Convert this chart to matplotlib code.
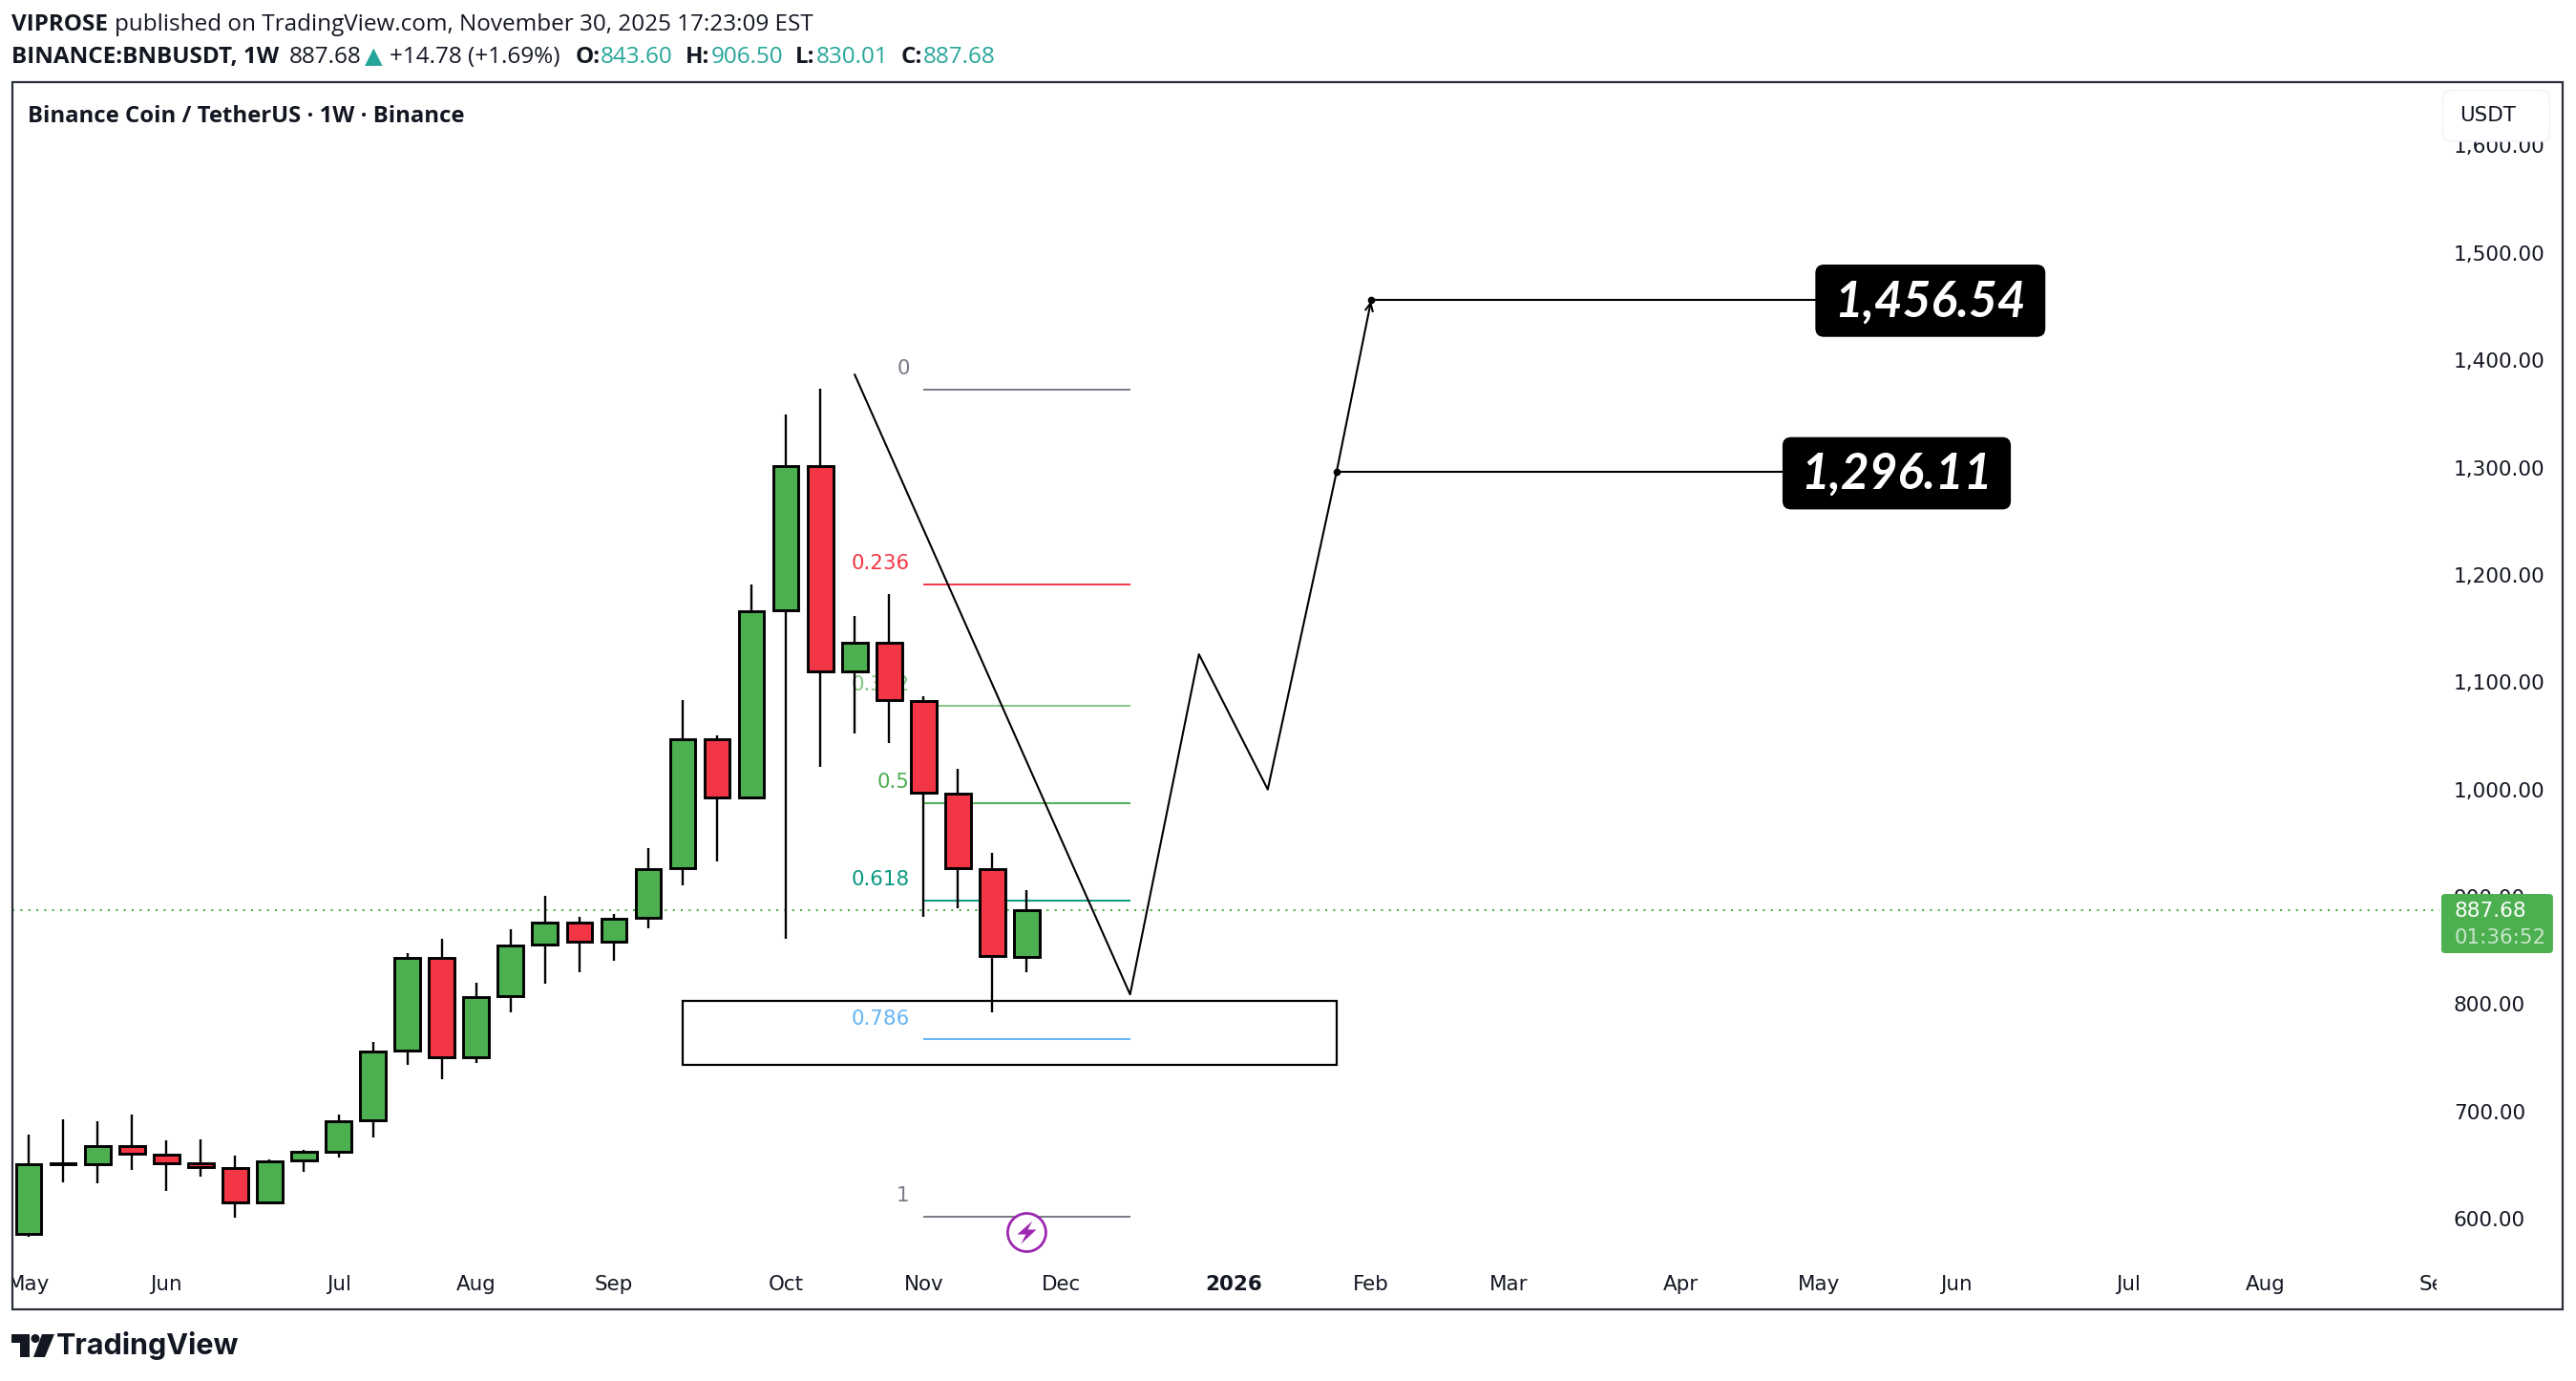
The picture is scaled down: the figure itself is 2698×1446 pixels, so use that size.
import numpy as np
import matplotlib
matplotlib.use('Agg')
import matplotlib.pyplot as plt
from matplotlib.patches import FancyBboxPatch, Rectangle, Circle, Polygon

# weekly candles, BINANCE:BNBUSDT
opens  = [585.4, 651.0, 650.7, 668.1, 660.0, 651.3, 647.3, 615.2, 654.4, 662.2, 692.1, 756.4, 843.2, 750.8, 807.4,
          855.6, 876.2, 858.1, 880.5, 927.0, 1046.8, 992.8, 1166.6, 1301.0, 1110.0, 1136.5, 1082.5, 996.4, 926.2, 843.6]
highs  = [678.4, 692.7, 690.8, 697.0, 673.0, 674.0, 658.8, 655.0, 664.4, 697.0, 764.8, 847.3, 860.6, 819.6, 869.3,
          900.7, 881.0, 883.6, 945.2, 1083.0, 1050.0, 1191.2, 1349.0, 1373.8, 1161.5, 1181.7, 1086.5, 1019.0, 940.5, 906.5]
lows   = [583.5, 634.2, 633.3, 645.0, 625.5, 639.0, 601.2, 615.0, 644.0, 656.6, 675.3, 743.4, 730.0, 745.0, 792.5,
          819.3, 829.8, 840.7, 870.2, 911.0, 932.5, 991.0, 861.0, 1021.4, 1052.4, 1043.6, 881.7, 888.9, 792.3, 830.01]
closes = [650.4, 651.3, 668.1, 660.6, 651.6, 647.9, 615.2, 653.8, 661.9, 691.1, 755.5, 843.2, 750.8, 806.5, 854.7,
          876.2, 858.1, 879.6, 925.9, 1046.8, 992.8, 1165.8, 1301.0, 1110.0, 1136.5, 1083.3, 996.8, 927.0, 844.4, 887.68]

# fib retracement tool
fib_levels = ['0', '0.236', '0.382', '0.5', '0.618', '0.786', '1']
fib_prices = [1373.0, 1191.0, 1078.0, 987.5, 896.5, 767.0, 602.0]
fib_colors = ['#787b86', '#f23645', '#81c784', '#4caf50', '#089981', '#64b5f6', '#787b86']
fib_start, fib_end = 26, 32

# hand drawn path and targets
path_x = [24, 32, 34, 36, 38, 39]
path_y = [1386.5, 809, 1126, 1000, 1296, 1455]
target_prices = [1456.54, 1296.11]
target_x0 = [39, 38]
target_x1 = [52, 51]
zone_x = [19, 38]
zone_y = [743, 803]

last_price = 887.68
time_ticks = [0, 4, 9, 13, 17, 22, 26, 30, 35, 39, 43, 48, 52, 56, 61, 65, 70]
time_labels = ['May', 'Jun', 'Jul', 'Aug', 'Sep', 'Oct', 'Nov', 'Dec', '2026', 'Feb', 'Mar', 'Apr', 'May', 'Jun', 'Jul', 'Aug', 'Sep']
price_ticks = [600, 700, 800, 900, 1000, 1100, 1200, 1300, 1400, 1500, 1600]

W, H = 2698, 1446
GREEN = '#4caf50'
RED = '#f23645'
DARK = '#131722'
TEAL = '#26a69a'
K = 2698 / 1568.0  # reading scale from the screenshot
HEAD = ['Open Sans', 'DejaVu Sans']

plt.rcParams['font.family'] = HEAD
fig = plt.figure(figsize=(W / 100, H / 100), dpi=100, facecolor='white')

# price pane
left, right = 7.5 * K, 1485 * K
top, bottom = 50 * K, 766 * K
ax = fig.add_axes([left / W, 1 - bottom / H, (right - left) / W, (bottom - top) / H])
ax.set_xlim(-0.477, 70.05)
ax.set_ylim(800 + (611 - 766) / 0.653, 800 + (611 - 50) / 0.653)
for s in ax.spines.values():
    s.set_visible(False)
ax.yaxis.tick_right()
ax.set_xticks(time_ticks)
ax.set_xticklabels(time_labels, fontsize=15.4, family='DejaVu Sans', color=DARK)
ax.get_xticklabels()[8].set_fontweight('bold')
ax.set_yticks(price_ticks)
ax.set_yticklabels(['{:,.2f}'.format(p) for p in price_ticks], fontsize=15.6, family='DejaVu Sans', color=DARK)
ax.tick_params(axis='x', length=0, pad=12)
ax.tick_params(axis='y', length=0, pad=10.5)
for lab in ax.get_xticklabels():
    lab.set_clip_on(True)
    lab.set_clip_box(matplotlib.transforms.Bbox([[left, 0], [1483 * K, H]]))

# fib levels sit under the candles
for lev, pr, col in zip(fib_levels, fib_prices, fib_colors):
    ax.hlines(pr, fib_start, fib_end, color=col, lw=1.4, zorder=1)
    ax.annotate(lev, (fib_start, pr), xytext=(-10.5, 8.5), textcoords='offset points', ha='right', va='bottom',
                color=col, fontsize=15.4, family='DejaVu Sans', zorder=1)

ax.axhline(last_price, color=GREEN, lw=1.5, ls=(0, (1, 3)), zorder=1.5)

# candles
xs = np.arange(len(opens))
o, h, l, c = map(np.array, (opens, highs, lows, closes))
ax.vlines(xs, l, h, color='black', lw=1.7, zorder=3)
cols = [GREEN if cc >= oo else RED for oo, cc in zip(o, c)]
ax.bar(xs, np.abs(c - o), bottom=np.minimum(o, c), width=0.74, color=cols, edgecolor='black', lw=2.1, zorder=4)

# drawings
ax.add_patch(Rectangle((zone_x[0], zone_y[0]), zone_x[1] - zone_x[0], zone_y[1] - zone_y[0],
                       fill=False, edgecolor='black', lw=1.6, zorder=5))
ax.plot(path_x[:-1], path_y[:-1], color='black', lw=1.5, zorder=6)
ax.annotate('', (path_x[-1], path_y[-1]), (path_x[-2], path_y[-2]), zorder=6,
            arrowprops=dict(arrowstyle='->', color='black', lw=1.5, mutation_scale=14, shrinkA=0, shrinkB=0))
for x0, x1, y in zip(target_x0, target_x1, target_prices):
    ax.plot([x0, x1], [y, y], color='black', lw=1.5, zorder=6)
    ax.plot([x0], [y], 'o', color='black', ms=4.5, zorder=7)

# everything outside the pane, in pixels of the screenshot
bg = fig.add_axes([0, 0, 1, 1], zorder=5)
bg.set_xlim(0, W)
bg.set_ylim(H, 0)
bg.axis('off')

bg.add_patch(Rectangle((7.5 * K, 50 * K), (1560 - 7.5) * K, (797 - 50) * K, fill=False, edgecolor='#2a2e39', lw=1.6))


def chain(x, y, pieces, size):
    rend = fig.canvas.get_renderer()
    for txt, col, wt, gap in pieces:
        t = bg.text(x, y, txt, color=col, fontweight=wt, fontsize=size, va='center', ha='left')
        x = t.get_window_extent(rend).x1 + gap


chain(12, 26, [('VIPROSE', DARK, 'bold', 7),
               ('published on TradingView.com, November 30, 2025 17:23:09 EST', DARK, 'normal', 0)], 17.5)
chain(12, 60, [('BINANCE:BNBUSDT, 1W', DARK, 'bold', 10),
               ('887.68', DARK, 'normal', 4),
               ('▲', TEAL, 'normal', 7),
               ('+14.78 (+1.69%)', DARK, 'normal', 16),
               ('O:', DARK, 'bold', 1), ('843.60', TEAL, 'normal', 13),
               ('H:', DARK, 'bold', 1), ('906.50', TEAL, 'normal', 13),
               ('L:', DARK, 'bold', 1), ('830.01', TEAL, 'normal', 13),
               ('C:', DARK, 'bold', 1), ('887.68', TEAL, 'normal', 0)], 17.5)
bg.text(17 * K, 71 * K, 'Binance Coin / TetherUS · 1W · Binance', color=DARK, fontsize=17.2, fontweight='bold',
        va='center', ha='left')

# currency box hides the top tick label
bg.add_patch(FancyBboxPatch((1487 * K, 55 * K), 65 * K, 31 * K, boxstyle='round,pad=0,rounding_size=8',
                            facecolor='white', edgecolor='#f0f3fa', lw=1))
bg.text(1514 * K, 70.5 * K, 'USDT', color=DARK, fontsize=15.4, family='DejaVu Sans', ha='center', va='center')

# last price tag
bg.add_patch(FancyBboxPatch((1486 * K, 544 * K), 68 * K, 36 * K, boxstyle='round,pad=0,rounding_size=4',
                            facecolor=GREEN, edgecolor='none'))
bg.text(1494 * K, 554.5 * K, '887.68', color='white', fontsize=15.6, family='DejaVu Sans', va='center')
bg.text(1494 * K, 571 * K, '01:36:52', color='#c9e7cb', fontsize=15.4, family='DejaVu Sans', va='center')

# target labels
box_x = [1105, 1085]
box_w = [140, 139]
box_yc = [183, 288]
for x0, w, yc, p in zip(box_x, box_w, box_yc, target_prices):
    bg.add_patch(FancyBboxPatch((x0 * K, (yc - 22) * K), w * K, 44 * K, boxstyle='round,pad=0,rounding_size=9',
                                facecolor='black', edgecolor='none'))
    bg.text((x0 + w / 2) * K, (yc + 1) * K, '{:,.2f}'.format(p), color='white', fontsize=37, fontweight='bold',
            fontstyle='italic', family='Lato', ha='center', va='center')

# lightning badge
cx, cy = 625 * K, 750 * K
bg.add_patch(Circle((cx, cy), 20, facecolor='white', edgecolor='#9c27b0', lw=2))
bg.add_patch(Polygon([(cx + 6, cy - 12), (cx - 10, cy + 2), (cx - 1, cy + 2), (cx - 6, cy + 12),
                      (cx + 10, cy - 3), (cx + 1, cy - 3)], closed=True, facecolor='#9c27b0', edgecolor='none'))

# logo
bg.add_patch(Polygon([(12, 1397), (31, 1397), (31, 1421), (21, 1421), (21, 1406), (12, 1406)], facecolor=DARK, edgecolor='none'))
bg.add_patch(Circle((37, 1401.5), 4.5, facecolor=DARK, edgecolor='none'))
bg.add_patch(Polygon([(44, 1397), (57, 1397), (47, 1421), (35, 1421)], facecolor=DARK, edgecolor='none'))
bg.text(59, 1409, 'TradingView', color=DARK, fontsize=22, fontweight='bold', family='Inter', va='center', ha='left')

fig.savefig('out.png', dpi=100)
